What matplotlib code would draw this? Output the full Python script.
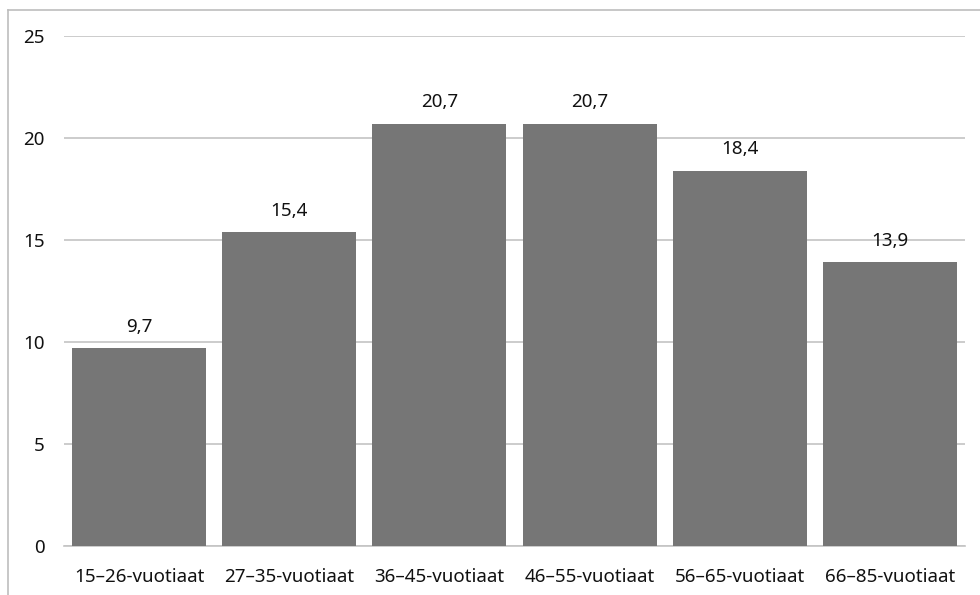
import numpy as np
import matplotlib
matplotlib.use('Agg')
import matplotlib.pyplot as plt
from matplotlib.lines import Line2D

categories = ['15–26-vuotiaat', '27–35-vuotiaat', '36–45-vuotiaat',
              '46–55-vuotiaat', '56–65-vuotiaat', '66–85-vuotiaat']
values = [9.7, 15.4, 20.7, 20.7, 18.4, 13.9]
yticks = [0, 5, 10, 15, 20, 25]

plt.rcParams['font.family'] = ['Noto Sans', 'DejaVu Sans']
fs = 13.5

fig = plt.figure(figsize=(9.8, 5.95), dpi=100)
ax = fig.add_axes([64/980, 49/595, 901/980, 510/595])

x = np.arange(len(categories))
bars = ax.bar(x, values, width=0.893, color='#767676', zorder=3)
for xi, v in zip(x, values):
    ax.text(xi, v + 0.6, f'{v:.1f}'.replace('.', ','), ha='center', va='bottom',
            fontsize=fs, color='#111111')

ax.set_xlim(-0.5, len(categories) - 0.5)
ax.set_ylim(0, 25)
ax.set_yticks(yticks)
ax.set_yticklabels([str(t) for t in yticks], fontsize=fs)
ax.set_xticks(x)
ax.set_xticklabels(categories, fontsize=fs)
ax.yaxis.grid(True, color='#c4c4c4', linewidth=1.2, zorder=0)
ax.tick_params(axis='both', length=0, colors='#111111')
ax.tick_params(axis='y', pad=14)
ax.tick_params(axis='x', pad=16)
for s in ['top', 'right', 'left']:
    ax.spines[s].set_visible(False)
ax.spines['bottom'].set_color('#c4c4c4')
ax.spines['bottom'].set_linewidth(1.2)

# outer frame (left and top edges visible)
fig.add_artist(Line2D([8/980, 8/980], [0, 1 - 10/595], transform=fig.transFigure,
                      color='#bdbdbd', linewidth=1.2))
fig.add_artist(Line2D([8/980, 1], [1 - 10/595, 1 - 10/595], transform=fig.transFigure,
                      color='#bdbdbd', linewidth=1.2))

fig.savefig('out.png', dpi=100)
